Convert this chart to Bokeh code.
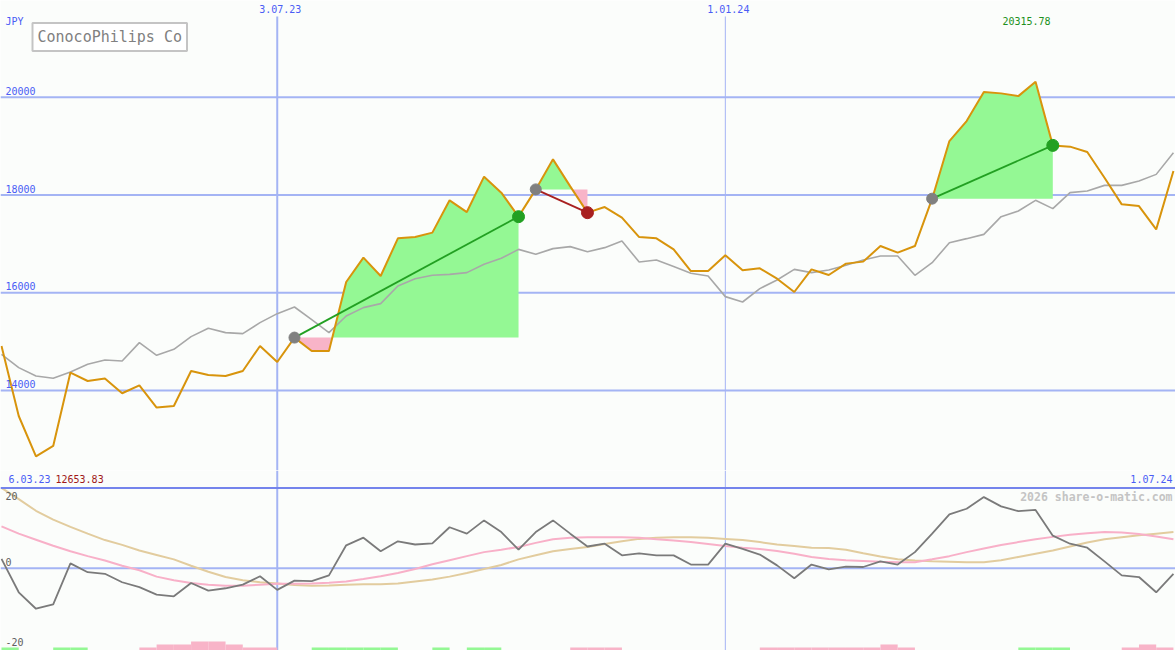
import numpy as np
import pandas as pd
from bokeh.plotting import figure
from bokeh.models import Range1d, Label, Span
from bokeh.layouts import column
from bokeh.embed import file_html
from bokeh.resources import INLINE

# ------------------------------------------------------------------ data
start_date = "2023-03-13"          # first weekly close shown
price = [14910, 13478, 12654, 12865, 14366, 14194, 14243, 13943, 14106, 13650,
         13683, 14399, 14317, 14297, 14399, 14910, 14583, 15082, 14808, 14808,
         16219, 16718, 16342, 17112, 17139, 17229, 17890, 17650, 18374, 18047,
         17556, 18114, 18728, 18176, 17638, 17753, 17536, 17139, 17112, 16887,
         16444, 16444, 16765, 16458, 16499, 16287, 16015, 16478, 16362, 16595,
         16636, 16955, 16820, 16955, 17924, 19102, 19511, 20104, 20078, 20022,
         20316, 19014, 18988, 18878, 18353, 17808, 17773, 17296, 18489]
moving_avg = [14740, 14468, 14297, 14249, 14378, 14536, 14624, 14603, 14979, 14720,
              14842, 15102, 15272, 15184, 15163, 15388, 15572, 15708, 15450, 15184,
              15524, 15695, 15777, 16137, 16287, 16356, 16376, 16411, 16581, 16704,
              16887, 16785, 16902, 16943, 16840, 16922, 17057, 16628, 16669, 16534,
              16397, 16342, 15920, 15810, 16084, 16260, 16478, 16411, 16464, 16560,
              16669, 16751, 16751, 16356, 16615, 17024, 17106, 17194, 17556, 17671,
              17890, 17720, 18047, 18080, 18196, 18196, 18284, 18421, 18865]
oscillator = [2.3, -6.0, -10.1, -9.0, 1.2, -1.0, -1.4, -3.5, -4.7, -6.6,
              -7.0, -3.7, -5.6, -5.0, -4.1, -2.0, -5.4, -3.1, -3.2, -1.8,
              5.7, 7.6, 4.2, 6.7, 5.9, 6.2, 10.2, 8.6, 11.9, 9.0,
              4.6, 9.0, 11.9, 8.6, 5.4, 6.1, 3.2, 3.7, 3.2, 3.2,
              0.9, 0.9, 6.1, 4.8, 3.4, 0.7, -2.5, 0.9, -0.3, 0.4,
              0.3, 1.7, 0.9, 4.0, 8.6, 13.4, 14.8, 17.7, 15.4, 14.2,
              14.5, 8.1, 6.1, 5.1, 1.7, -1.8, -2.2, -6.0, -1.4]
osc_fast = [10.4, 8.6, 7.1, 5.6, 4.2, 3.0, 1.9, 0.6, -0.5, -2.1,
            -3.0, -3.7, -4.1, -4.4, -4.4, -4.1, -3.9, -3.9, -3.8, -3.6,
            -3.3, -2.7, -2.0, -1.2, -0.2, 1.0, 2.0, 3.0, 4.0, 4.6,
            5.3, 6.3, 7.2, 7.6, 7.7, 7.7, 7.7, 7.6, 7.2, 6.9,
            6.5, 6.0, 5.5, 5.1, 4.8, 4.3, 3.6, 2.8, 2.3, 2.0,
            1.8, 1.6, 1.5, 1.5, 2.2, 3.0, 4.0, 4.9, 5.8, 6.5,
            7.2, 7.8, 8.3, 8.7, 9.0, 8.9, 8.5, 7.9, 7.2]
osc_slow = [20.0, 17.2, 14.3, 12.1, 10.3, 8.6, 7.0, 5.8, 4.4, 3.3,
            2.2, 0.6, -0.9, -2.2, -3.0, -3.5, -3.8, -4.2, -4.4, -4.3,
            -4.1, -4.0, -4.0, -3.8, -3.3, -2.8, -2.1, -1.2, -0.2, 0.8,
            2.2, 3.2, 4.2, 4.8, 5.3, 6.0, 6.7, 7.3, 7.6, 7.7,
            7.7, 7.6, 7.3, 7.0, 6.5, 5.9, 5.5, 5.1, 5.0, 4.6,
            3.7, 2.9, 2.2, 1.9, 1.7, 1.6, 1.5, 1.5, 2.0, 2.8,
            3.6, 4.4, 5.4, 6.4, 7.2, 7.7, 8.2, 8.6, 9.0]
# signal strength per week interval (week i -> week i+1), + green / - pink
signal_hist = [1, 0, 0, 1, 1, 0, 0, 0, -1, -2,
               -2, -3, -3, -2, -1, -1, 0, 0, 1, 1,
               1, 1, 1, 0, 0, 1, 0, 1, 1, 0,
               0, 0, 0, -1, -1, -1, 0, 0, 0, 0,
               0, 0, 0, 0, -1, -1, -1, -1, -1, -1,
               -1, -2, -1, 0, 0, 0, 0, 0, 0, 1,
               1, 1, 0, 0, 0, -1, -2, -1]
buy_weeks = [17, 31, 54]
sell_weeks = [30, 34, 61]

price_ticks = [14000, 16000, 18000, 20000]
price_tick_labels = ["14000", "16000", "18000", "20000"]
date_ticks = ["2023-07-03", "2024-01-01"]
date_tick_labels = ["3.07.23", "1.01.24"]
osc_ticks = [20, 0, -20]
osc_tick_labels = ["20", "0", "-20"]
currency = "JPY"
title = "ConocoPhilips Co"
period_start_label = "6.03.23"
period_end_label = "1.07.24"
min_label = "12653.83"
max_label = "20315.78"
watermark = "2026 share-o-matic.com"

# ------------------------------------------------------------------ style
BG = "#fbfdfb"
GRID = "#a4b4f4"
SEP = "#7484ec"
BLUE_TXT = "#4a5cf5"
GREEN_TXT = "#209020"
RED_TXT = "#a01818"
GRAY_TXT = "#606060"
ORANGE = "#d8940c"
MA_GRAY = "#a8a8a8"
OSC_GRAY = "#7a7a7a"
PINK_LINE = "#f8b0c8"
TAN_LINE = "#e2cc9e"
FILL_GREEN = "#94f894"
FILL_PINK = "#f8b4c8"
DOT_GRAY = "#808080"
DOT_GREEN = "#22a022"
DOT_RED = "#a82020"
FONT = "DejaVu Sans Mono"
W = 1175
H_TOP = 470
H_BOT = 180
TOP_Y = (12363, 21978)
BOT_Y = (-20.5, 24.33)
VLINE_TOP = 21651

dates = pd.date_range(start_date, periods=len(price), freq="7D")
x = dates.values.astype("datetime64[ms]").astype("int64").astype(float)
week = 7 * 24 * 3600 * 1000.0
x_range = Range1d(x[0] - 0.058 * week, x[0] + 68.12 * week)
tick_x = [pd.Timestamp(d).value / 1e6 for d in date_ticks]
vline_widths = [2, 1]
price_arr = np.array(price, dtype=float)


def make_fig(height, yr):
    f = figure(width=W, height=height, x_range=x_range, y_range=Range1d(*yr),
               output_backend="svg", toolbar_location=None,
               x_axis_type=None, y_axis_type=None, min_border=0,
               background_fill_color=BG, border_fill_color=BG,
               outline_line_color=None)
    f.grid.visible = False
    return f


def txt(fig, text, xx, yy, color, size="10px", **kw):
    fig.add_layout(Label(x=xx, y=yy, text=text, text_font=FONT,
                         text_font_size=size, text_color=color,
                         text_baseline="alphabetic", **kw))


# ------------------------------------------------------------------ price panel
p1 = make_fig(H_TOP, TOP_Y)
for t in price_ticks:
    p1.add_layout(Span(location=t, dimension="width", line_color=GRID,
                       line_width=2, level="underlay"))
for tx, lw in zip(tick_x, vline_widths):
    p1.segment(x0=[tx], y0=[TOP_Y[0]], x1=[tx], y1=[VLINE_TOP], line_color=GRID, line_width=lw)

# trade fills: price relative to the entry level
for b, s in zip(buy_weeks, sell_weeks):
    base = price_arr[b]
    xs, ys = [], []
    for k in range(b, s + 1):
        if k > b:
            pa, pb = price_arr[k - 1] - base, price_arr[k] - base
            if pa * pb < 0:
                t = pa / (pa - pb)
                xs.append(x[k - 1] + t * (x[k] - x[k - 1]))
                ys.append(base)
        xs.append(x[k])
        ys.append(price_arr[k])
    ys = np.array(ys)
    p1.varea(x=xs, y1=[base] * len(xs), y2=np.maximum(ys, base), fill_color=FILL_GREEN)
    p1.varea(x=xs, y1=np.minimum(ys, base), y2=[base] * len(xs), fill_color=FILL_PINK)

p1.line(x, moving_avg, line_color=MA_GRAY, line_width=1.6)
p1.line(x, price, line_color=ORANGE, line_width=2)

for b, s in zip(buy_weeks, sell_weeks):
    win = price[s] >= price[b]
    col = DOT_GREEN if win else DOT_RED
    p1.segment(x0=[x[b]], y0=[price[b]], x1=[x[s]], y1=[price[s]], line_color=col, line_width=1.8)
    p1.scatter([x[b]], [price[b]], size=11, fill_color=DOT_GRAY, line_color=DOT_GRAY)
    p1.scatter([x[s]], [price[s]], size=12, fill_color=col, line_color=col)

TOP_SHIFT = 486 - H_TOP
txt(p1, currency, 5, 465.4 - TOP_SHIFT, BLUE_TXT, x_units="screen", y_units="screen")
for t, lab in zip(price_ticks, price_tick_labels):
    txt(p1, lab, 5, t, BLUE_TXT, x_units="screen", y_offset=6.4)
for tx, lab in zip(tick_x, date_tick_labels):
    txt(p1, lab, tx, 477.4 - TOP_SHIFT, BLUE_TXT, y_units="screen", x_offset=3, text_align="center")
imax = int(np.argmax(price_arr))
txt(p1, max_label, x[imax], 465.4 - TOP_SHIFT, GREEN_TXT, y_units="screen",
    x_offset=-9, text_align="center")
p1.add_layout(Label(x=32, y=H_TOP - 36.5, x_units="screen", y_units="screen", text=title,
                    text_font=FONT, text_font_size="15px", text_color="#808080",
                    text_baseline="alphabetic", border_line_color="#c4c4c4",
                    border_line_width=2, background_fill_color="#ffffff", padding=5))

# ------------------------------------------------------------------ oscillator panel
p2 = make_fig(H_BOT, BOT_Y)
p2.add_layout(Span(location=0, dimension="width", line_color=GRID, line_width=2, level="underlay"))
for tx, lw in zip(tick_x, vline_widths):
    p2.add_layout(Span(location=tx, dimension="height", line_color=GRID, line_width=lw, level="underlay"))
p2.add_layout(Span(location=osc_ticks[0], dimension="width", line_color=SEP, line_width=2))

h = np.array(signal_hist, dtype=float)
bar_unit = 0.75
p2.quad(left=x[:-1], right=x[1:], bottom=BOT_Y[0], top=BOT_Y[0] + np.abs(h) * bar_unit,
        fill_color=[FILL_GREEN if v > 0 else FILL_PINK for v in h],
        line_color=None, fill_alpha=[1.0 if v != 0 else 0.0 for v in h])

p2.line(x, osc_slow, line_color=TAN_LINE, line_width=2)
p2.line(x, osc_fast, line_color=PINK_LINE, line_width=2)
p2.line(x, oscillator, line_color=OSC_GRAY, line_width=1.8)

for t, lab in zip(osc_ticks, osc_tick_labels):
    off = -8.25 if t == max(osc_ticks) else 6.4
    txt(p2, lab, 5, t, GRAY_TXT, x_units="screen", y_offset=off)

txt(p2, period_start_label, 8, H_BOT - 8.65, BLUE_TXT, x_units="screen", y_units="screen")
txt(p2, min_label, 55, H_BOT - 8.65, RED_TXT, x_units="screen", y_units="screen")
txt(p2, period_end_label, 1172, H_BOT - 8.65, BLUE_TXT, x_units="screen", y_units="screen",
    text_align="right")
p2.add_layout(Label(x=1172, y=H_BOT - 26.2, x_units="screen", y_units="screen", text=watermark,
                    text_font=FONT, text_font_size="11.5px", text_font_style="bold",
                    text_color="#c4c4c4", text_align="right", text_baseline="alphabetic"))

layout = column(p1, p2)
open("out.html", "w").write(file_html(layout, INLINE))
